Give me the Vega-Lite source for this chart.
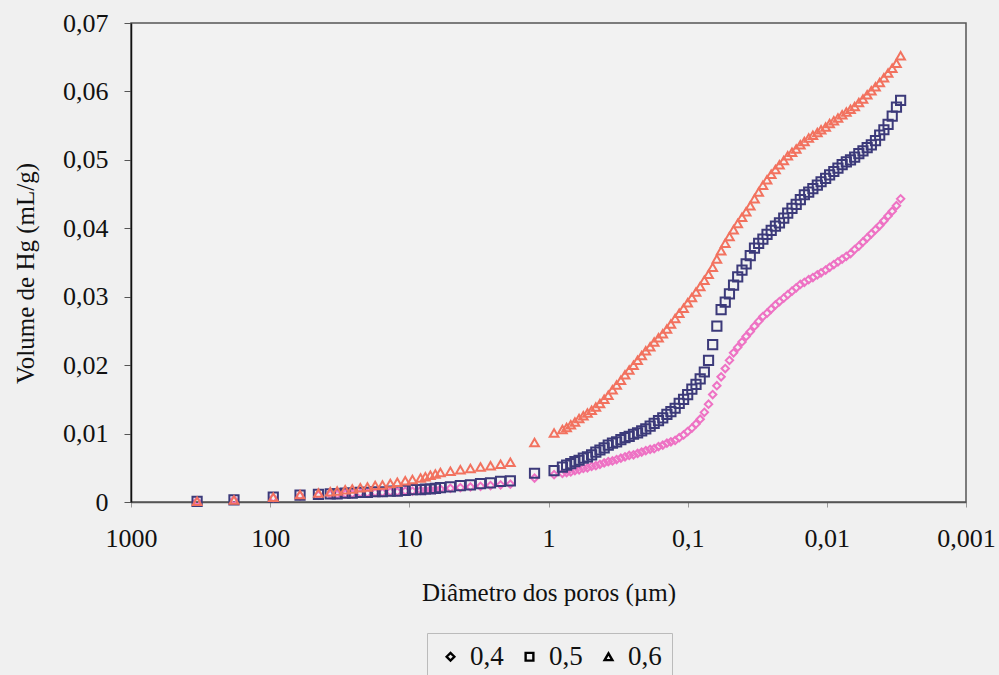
{
  "$schema": "https://vega.github.io/schema/vega-lite/v6.json",
  "width": 835,
  "height": 479,
  "autosize": "none",
  "padding": {"left": 131, "top": 23, "right": 33, "bottom": 173},
  "background": "#f0f0f0",
  "config": {
    "font": "Liberation Serif",
    "view": {"stroke": "#555555", "strokeWidth": 1.5, "fill": "#f2f2f2"}
  },
  "data": {
    "values": [
      {"s":"0,4","d":335,"v":0.0001},{"s":"0,4","d":182,"v":0.0003},{"s":"0,4","d":95,"v":0.0006},{"s":"0,4","d":61,"v":0.0009},{"s":"0,4","d":45,"v":0.0010},{"s":"0,4","d":37,"v":0.0011},{"s":"0,4","d":33,"v":0.0011},{"s":"0,4","d":28.9,"v":0.0012},{"s":"0,4","d":25.7,"v":0.0012},{"s":"0,4","d":22.5,"v":0.0013},{"s":"0,4","d":20,"v":0.0013},{"s":"0,4","d":17.6,"v":0.0014},{"s":"0,4","d":15.6,"v":0.0014},{"s":"0,4","d":13.7,"v":0.0015},{"s":"0,4","d":12.2,"v":0.0015},{"s":"0,4","d":10.7,"v":0.0016},{"s":"0,4","d":9.5,"v":0.0016},{"s":"0,4","d":8.3,"v":0.0017},{"s":"0,4","d":7.67,"v":0.0017},{"s":"0,4","d":7.06,"v":0.0018},{"s":"0,4","d":6.5,"v":0.0018},{"s":"0,4","d":5.98,"v":0.0019},{"s":"0,4","d":5.07,"v":0.0020},{"s":"0,4","d":4.3,"v":0.0021},{"s":"0,4","d":3.64,"v":0.0022},{"s":"0,4","d":3.08,"v":0.0023},{"s":"0,4","d":2.61,"v":0.0024},{"s":"0,4","d":2.21,"v":0.0025},{"s":"0,4","d":1.88,"v":0.0026},
      {"s":"0,4","d":1.26,"v":0.0035},{"s":"0,4","d":0.912,"v":0.0040},
      {"s":"0,4","d":0.794,"v":0.0042},{"s":"0,4","d":0.741,"v":0.0043},{"s":"0,4","d":0.692,"v":0.0044},{"s":"0,4","d":0.646,"v":0.0046},{"s":"0,4","d":0.603,"v":0.0047},{"s":"0,4","d":0.562,"v":0.0049},{"s":"0,4","d":0.525,"v":0.0050},{"s":"0,4","d":0.49,"v":0.0052},{"s":"0,4","d":0.457,"v":0.0053},{"s":"0,4","d":0.427,"v":0.0055},
      {"s":"0,4","d":0.398,"v":0.0057},{"s":"0,4","d":0.372,"v":0.0059},{"s":"0,4","d":0.347,"v":0.0060},{"s":"0,4","d":0.324,"v":0.0062},{"s":"0,4","d":0.302,"v":0.0064},{"s":"0,4","d":0.282,"v":0.0066},{"s":"0,4","d":0.263,"v":0.0068},{"s":"0,4","d":0.245,"v":0.0069},{"s":"0,4","d":0.229,"v":0.0071},{"s":"0,4","d":0.214,"v":0.0073},
      {"s":"0,4","d":0.2,"v":0.0075},{"s":"0,4","d":0.186,"v":0.0077},{"s":"0,4","d":0.174,"v":0.0078},{"s":"0,4","d":0.162,"v":0.0081},{"s":"0,4","d":0.151,"v":0.0083},{"s":"0,4","d":0.141,"v":0.0086},{"s":"0,4","d":0.132,"v":0.0088},{"s":"0,4","d":0.123,"v":0.0090},{"s":"0,4","d":0.115,"v":0.0094},{"s":"0,4","d":0.107,"v":0.0098},
      {"s":"0,4","d":0.1,"v":0.0103},{"s":"0,4","d":0.0933,"v":0.0108},{"s":"0,4","d":0.0871,"v":0.0114},{"s":"0,4","d":0.0813,"v":0.0121},{"s":"0,4","d":0.0759,"v":0.0131},{"s":"0,4","d":0.0708,"v":0.0143},{"s":"0,4","d":0.0661,"v":0.0157},{"s":"0,4","d":0.0617,"v":0.0170},{"s":"0,4","d":0.0575,"v":0.0183},{"s":"0,4","d":0.0537,"v":0.0195},
      {"s":"0,4","d":0.0501,"v":0.0207},{"s":"0,4","d":0.0468,"v":0.0218},{"s":"0,4","d":0.0437,"v":0.0226},{"s":"0,4","d":0.0407,"v":0.0234},{"s":"0,4","d":0.038,"v":0.0242},{"s":"0,4","d":0.0355,"v":0.0249},{"s":"0,4","d":0.0331,"v":0.0257},{"s":"0,4","d":0.0309,"v":0.0264},{"s":"0,4","d":0.0288,"v":0.0271},{"s":"0,4","d":0.0269,"v":0.0276},
      {"s":"0,4","d":0.0251,"v":0.0282},{"s":"0,4","d":0.0234,"v":0.0288},{"s":"0,4","d":0.0219,"v":0.0293},{"s":"0,4","d":0.0204,"v":0.0298},{"s":"0,4","d":0.0191,"v":0.0303},{"s":"0,4","d":0.0178,"v":0.0308},{"s":"0,4","d":0.0166,"v":0.0313},{"s":"0,4","d":0.0155,"v":0.0318},{"s":"0,4","d":0.0145,"v":0.0321},{"s":"0,4","d":0.0135,"v":0.0325},
      {"s":"0,4","d":0.0126,"v":0.0328},{"s":"0,4","d":0.0117,"v":0.0332},{"s":"0,4","d":0.011,"v":0.0335},{"s":"0,4","d":0.0102,"v":0.0339},{"s":"0,4","d":0.00955,"v":0.0343},{"s":"0,4","d":0.00891,"v":0.0347},{"s":"0,4","d":0.00832,"v":0.0351},{"s":"0,4","d":0.00776,"v":0.0355},{"s":"0,4","d":0.00724,"v":0.0359},{"s":"0,4","d":0.00676,"v":0.0363},
      {"s":"0,4","d":0.00631,"v":0.0369},{"s":"0,4","d":0.00589,"v":0.0374},{"s":"0,4","d":0.0055,"v":0.0380},{"s":"0,4","d":0.00513,"v":0.0386},{"s":"0,4","d":0.00479,"v":0.0392},{"s":"0,4","d":0.00447,"v":0.0398},{"s":"0,4","d":0.00417,"v":0.0404},{"s":"0,4","d":0.00389,"v":0.0411},{"s":"0,4","d":0.00363,"v":0.0418},{"s":"0,4","d":0.00339,"v":0.0425},
      {"s":"0,4","d":0.00316,"v":0.0433},{"s":"0,4","d":0.00295,"v":0.0443},

      {"s":"0,5","d":335,"v":0.0001},{"s":"0,5","d":182,"v":0.0003},{"s":"0,5","d":95,"v":0.0007},{"s":"0,5","d":61,"v":0.0010},{"s":"0,5","d":45,"v":0.0011},{"s":"0,5","d":37,"v":0.0012},{"s":"0,5","d":33,"v":0.0012},{"s":"0,5","d":28.9,"v":0.0013},{"s":"0,5","d":25.7,"v":0.0013},{"s":"0,5","d":22.5,"v":0.0014},{"s":"0,5","d":20,"v":0.0014},{"s":"0,5","d":17.6,"v":0.0015},{"s":"0,5","d":15.6,"v":0.0015},{"s":"0,5","d":13.7,"v":0.0016},{"s":"0,5","d":12.2,"v":0.0016},{"s":"0,5","d":10.7,"v":0.0017},{"s":"0,5","d":9.5,"v":0.0018},{"s":"0,5","d":8.3,"v":0.0018},{"s":"0,5","d":7.67,"v":0.0019},{"s":"0,5","d":7.06,"v":0.0019},{"s":"0,5","d":6.5,"v":0.0020},{"s":"0,5","d":5.98,"v":0.0021},{"s":"0,5","d":5.07,"v":0.0022},{"s":"0,5","d":4.3,"v":0.0024},{"s":"0,5","d":3.64,"v":0.0025},{"s":"0,5","d":3.08,"v":0.0027},{"s":"0,5","d":2.61,"v":0.0028},{"s":"0,5","d":2.21,"v":0.0030},{"s":"0,5","d":1.88,"v":0.0031},
      {"s":"0,5","d":1.26,"v":0.0042},{"s":"0,5","d":0.912,"v":0.0046},
      {"s":"0,5","d":0.794,"v":0.0051},{"s":"0,5","d":0.741,"v":0.0054},{"s":"0,5","d":0.692,"v":0.0056},{"s":"0,5","d":0.646,"v":0.0059},{"s":"0,5","d":0.603,"v":0.0061},{"s":"0,5","d":0.562,"v":0.0064},{"s":"0,5","d":0.525,"v":0.0066},{"s":"0,5","d":0.49,"v":0.0069},{"s":"0,5","d":0.457,"v":0.0073},{"s":"0,5","d":0.427,"v":0.0076},
      {"s":"0,5","d":0.398,"v":0.0079},{"s":"0,5","d":0.372,"v":0.0083},{"s":"0,5","d":0.347,"v":0.0086},{"s":"0,5","d":0.324,"v":0.0088},{"s":"0,5","d":0.302,"v":0.0091},{"s":"0,5","d":0.282,"v":0.0094},{"s":"0,5","d":0.263,"v":0.0096},{"s":"0,5","d":0.245,"v":0.0099},{"s":"0,5","d":0.229,"v":0.0101},{"s":"0,5","d":0.214,"v":0.0104},
      {"s":"0,5","d":0.2,"v":0.0107},{"s":"0,5","d":0.186,"v":0.0111},{"s":"0,5","d":0.174,"v":0.0115},{"s":"0,5","d":0.162,"v":0.0119},{"s":"0,5","d":0.151,"v":0.0123},{"s":"0,5","d":0.141,"v":0.0128},{"s":"0,5","d":0.132,"v":0.0132},{"s":"0,5","d":0.123,"v":0.0137},{"s":"0,5","d":0.115,"v":0.0144},{"s":"0,5","d":0.107,"v":0.0150},
      {"s":"0,5","d":0.1,"v":0.0157},{"s":"0,5","d":0.0933,"v":0.0165},{"s":"0,5","d":0.0871,"v":0.0172},{"s":"0,5","d":0.0813,"v":0.0180},{"s":"0,5","d":0.0759,"v":0.0190},{"s":"0,5","d":0.0708,"v":0.0207},{"s":"0,5","d":0.0661,"v":0.0230},{"s":"0,5","d":0.0617,"v":0.0257},{"s":"0,5","d":0.0575,"v":0.0281},{"s":"0,5","d":0.0537,"v":0.0292},
      {"s":"0,5","d":0.0501,"v":0.0304},{"s":"0,5","d":0.0468,"v":0.0317},{"s":"0,5","d":0.0437,"v":0.0329},{"s":"0,5","d":0.0407,"v":0.0339},{"s":"0,5","d":0.038,"v":0.0348},{"s":"0,5","d":0.0355,"v":0.0360},{"s":"0,5","d":0.0331,"v":0.0371},{"s":"0,5","d":0.0309,"v":0.0378},{"s":"0,5","d":0.0288,"v":0.0384},{"s":"0,5","d":0.0269,"v":0.0391},
      {"s":"0,5","d":0.0251,"v":0.0397},{"s":"0,5","d":0.0234,"v":0.0403},{"s":"0,5","d":0.0219,"v":0.0408},{"s":"0,5","d":0.0204,"v":0.0415},{"s":"0,5","d":0.0191,"v":0.0422},{"s":"0,5","d":0.0178,"v":0.0429},{"s":"0,5","d":0.0166,"v":0.0435},{"s":"0,5","d":0.0155,"v":0.0442},{"s":"0,5","d":0.0145,"v":0.0449},{"s":"0,5","d":0.0135,"v":0.0453},
      {"s":"0,5","d":0.0126,"v":0.0458},{"s":"0,5","d":0.0117,"v":0.0463},{"s":"0,5","d":0.011,"v":0.0468},{"s":"0,5","d":0.0102,"v":0.0473},{"s":"0,5","d":0.00955,"v":0.0478},{"s":"0,5","d":0.00891,"v":0.0483},{"s":"0,5","d":0.00832,"v":0.0488},{"s":"0,5","d":0.00776,"v":0.0493},{"s":"0,5","d":0.00724,"v":0.0497},{"s":"0,5","d":0.00676,"v":0.0500},
      {"s":"0,5","d":0.00631,"v":0.0504},{"s":"0,5","d":0.00589,"v":0.0509},{"s":"0,5","d":0.0055,"v":0.0513},{"s":"0,5","d":0.00513,"v":0.0518},{"s":"0,5","d":0.00479,"v":0.0522},{"s":"0,5","d":0.00447,"v":0.0528},{"s":"0,5","d":0.00417,"v":0.0536},{"s":"0,5","d":0.00389,"v":0.0544},{"s":"0,5","d":0.00363,"v":0.0552},{"s":"0,5","d":0.00339,"v":0.0564},
      {"s":"0,5","d":0.00316,"v":0.0577},{"s":"0,5","d":0.00295,"v":0.0587},

      {"s":"0,6","d":335,"v":0.0001},{"s":"0,6","d":182,"v":0.0003},{"s":"0,6","d":95,"v":0.0007},{"s":"0,6","d":61,"v":0.0011},{"s":"0,6","d":45,"v":0.0013},{"s":"0,6","d":37,"v":0.0015},{"s":"0,6","d":33,"v":0.0016},{"s":"0,6","d":28.9,"v":0.0018},{"s":"0,6","d":25.7,"v":0.0019},{"s":"0,6","d":22.5,"v":0.0021},{"s":"0,6","d":20,"v":0.0022},{"s":"0,6","d":17.6,"v":0.0024},{"s":"0,6","d":15.6,"v":0.0025},{"s":"0,6","d":13.7,"v":0.0027},{"s":"0,6","d":12.2,"v":0.0029},{"s":"0,6","d":10.7,"v":0.0031},{"s":"0,6","d":9.5,"v":0.0033},{"s":"0,6","d":8.3,"v":0.0035},{"s":"0,6","d":7.67,"v":0.0037},{"s":"0,6","d":7.06,"v":0.0039},{"s":"0,6","d":6.5,"v":0.0041},{"s":"0,6","d":5.98,"v":0.0043},{"s":"0,6","d":5.07,"v":0.0045},{"s":"0,6","d":4.3,"v":0.0047},{"s":"0,6","d":3.64,"v":0.0049},{"s":"0,6","d":3.08,"v":0.0051},{"s":"0,6","d":2.61,"v":0.0053},{"s":"0,6","d":2.21,"v":0.0055},{"s":"0,6","d":1.88,"v":0.0058},
      {"s":"0,6","d":1.26,"v":0.0087},{"s":"0,6","d":0.912,"v":0.0101},
      {"s":"0,6","d":0.794,"v":0.0106},{"s":"0,6","d":0.741,"v":0.0109},{"s":"0,6","d":0.692,"v":0.0113},{"s":"0,6","d":0.646,"v":0.0117},{"s":"0,6","d":0.603,"v":0.0122},{"s":"0,6","d":0.562,"v":0.0126},{"s":"0,6","d":0.525,"v":0.0130},{"s":"0,6","d":0.49,"v":0.0134},{"s":"0,6","d":0.457,"v":0.0139},{"s":"0,6","d":0.427,"v":0.0144},
      {"s":"0,6","d":0.398,"v":0.0150},{"s":"0,6","d":0.372,"v":0.0156},{"s":"0,6","d":0.347,"v":0.0164},{"s":"0,6","d":0.324,"v":0.0171},{"s":"0,6","d":0.302,"v":0.0178},{"s":"0,6","d":0.282,"v":0.0186},{"s":"0,6","d":0.263,"v":0.0193},{"s":"0,6","d":0.245,"v":0.0200},{"s":"0,6","d":0.229,"v":0.0207},{"s":"0,6","d":0.214,"v":0.0214},
      {"s":"0,6","d":0.2,"v":0.0221},{"s":"0,6","d":0.186,"v":0.0227},{"s":"0,6","d":0.174,"v":0.0234},{"s":"0,6","d":0.162,"v":0.0240},{"s":"0,6","d":0.151,"v":0.0246},{"s":"0,6","d":0.141,"v":0.0253},{"s":"0,6","d":0.132,"v":0.0260},{"s":"0,6","d":0.123,"v":0.0268},{"s":"0,6","d":0.115,"v":0.0276},{"s":"0,6","d":0.107,"v":0.0283},
      {"s":"0,6","d":0.1,"v":0.0291},{"s":"0,6","d":0.0933,"v":0.0299},{"s":"0,6","d":0.0871,"v":0.0307},{"s":"0,6","d":0.0813,"v":0.0315},{"s":"0,6","d":0.0759,"v":0.0324},{"s":"0,6","d":0.0708,"v":0.0333},{"s":"0,6","d":0.0661,"v":0.0343},{"s":"0,6","d":0.0617,"v":0.0355},{"s":"0,6","d":0.0575,"v":0.0367},{"s":"0,6","d":0.0537,"v":0.0378},
      {"s":"0,6","d":0.0501,"v":0.0388},{"s":"0,6","d":0.0468,"v":0.0398},{"s":"0,6","d":0.0437,"v":0.0407},{"s":"0,6","d":0.0407,"v":0.0416},{"s":"0,6","d":0.038,"v":0.0424},{"s":"0,6","d":0.0355,"v":0.0433},{"s":"0,6","d":0.0331,"v":0.0443},{"s":"0,6","d":0.0309,"v":0.0453},{"s":"0,6","d":0.0288,"v":0.0463},{"s":"0,6","d":0.0269,"v":0.0471},
      {"s":"0,6","d":0.0251,"v":0.0479},{"s":"0,6","d":0.0234,"v":0.0486},{"s":"0,6","d":0.0219,"v":0.0493},{"s":"0,6","d":0.0204,"v":0.0499},{"s":"0,6","d":0.0191,"v":0.0506},{"s":"0,6","d":0.0178,"v":0.0511},{"s":"0,6","d":0.0166,"v":0.0516},{"s":"0,6","d":0.0155,"v":0.0522},{"s":"0,6","d":0.0145,"v":0.0527},{"s":"0,6","d":0.0135,"v":0.0532},
      {"s":"0,6","d":0.0126,"v":0.0536},{"s":"0,6","d":0.0117,"v":0.0540},{"s":"0,6","d":0.011,"v":0.0544},{"s":"0,6","d":0.0102,"v":0.0548},{"s":"0,6","d":0.00955,"v":0.0553},{"s":"0,6","d":0.00891,"v":0.0557},{"s":"0,6","d":0.00832,"v":0.0561},{"s":"0,6","d":0.00776,"v":0.0566},{"s":"0,6","d":0.00724,"v":0.0570},{"s":"0,6","d":0.00676,"v":0.0574},
      {"s":"0,6","d":0.00631,"v":0.0578},{"s":"0,6","d":0.00589,"v":0.0584},{"s":"0,6","d":0.0055,"v":0.0589},{"s":"0,6","d":0.00513,"v":0.0595},{"s":"0,6","d":0.00479,"v":0.0601},{"s":"0,6","d":0.00447,"v":0.0607},{"s":"0,6","d":0.00417,"v":0.0613},{"s":"0,6","d":0.00389,"v":0.0620},{"s":"0,6","d":0.00363,"v":0.0627},{"s":"0,6","d":0.00339,"v":0.0634},
      {"s":"0,6","d":0.00316,"v":0.0641},{"s":"0,6","d":0.00295,"v":0.0652}
    ]
  },
  "encoding": {
    "x": {
      "field": "d",
      "type": "quantitative",
      "scale": {"type": "log", "domain": [0.001, 1000], "reverse": true, "nice": false},
      "axis": {
        "values": [1000, 100, 10, 1, 0.1, 0.01, 0.001],
        "labelExpr": "replace(toString(datum.value), '.', ',')",
        "title": "Diâmetro dos poros (µm)",
        "grid": false,
        "labelFont": "Liberation Serif",
        "labelFontSize": 26,
        "labelColor": "#111111",
        "labelPadding": 18,
        "labelFlush": false,
        "titleFont": "Liberation Serif",
        "titleFontSize": 25,
        "titleFontWeight": "normal",
        "titleColor": "#111111",
        "titleY": 90,
        "titleBaseline": "middle",
        "domainColor": "#555555",
        "domainWidth": 1.5,
        "tickColor": "#999999",
        "tickSize": 5
      }
    },
    "y": {
      "field": "v",
      "type": "quantitative",
      "scale": {"domain": [0, 0.07], "nice": false},
      "axis": {
        "values": [0, 0.01, 0.02, 0.03, 0.04, 0.05, 0.06, 0.07],
        "labelExpr": "datum.value == 0 ? '0' : replace(format(datum.value, '.2f'), '.', ',')",
        "title": "Volume de Hg (mL/g)",
        "grid": false,
        "labelFont": "Liberation Serif",
        "labelFontSize": 26,
        "labelColor": "#111111",
        "labelPadding": 16,
        "titleFont": "Liberation Serif",
        "titleFontSize": 25,
        "titleFontWeight": "normal",
        "titleColor": "#111111",
        "titleX": -106,
        "titleY": 250,
        "titleAlign": "center",
        "titleBaseline": "middle",
        "domainColor": "#111111",
        "domainWidth": 1.5,
        "tickColor": "#555555",
        "tickSize": 7
      }
    },
    "shape": {
      "field": "s",
      "type": "nominal",
      "scale": {"domain": ["0,4", "0,5", "0,6"], "range": ["diamond", "square", "triangle-up"]},
      "legend": {
        "title": null,
        "orient": "none",
        "direction": "horizontal",
        "legendX": 296,
        "legendY": 610,
        "symbolStrokeColor": "#000000",
        "symbolFillColor": "transparent",
        "symbolStrokeWidth": 2.4,
        "symbolSize": 60,
        "labelFont": "Liberation Serif",
        "labelFontSize": 27,
        "labelColor": "#111111",
        "labelOffset": 6,
        "columnPadding": 12,
        "padding": 10,
        "strokeColor": "#bbbbbb",
        "fillColor": "#f0f0f0"
      }
    }
  },
  "layer": [
    {
      "transform": [{"filter": "datum.s == '0,4'"}],
      "mark": {"type": "point", "filled": false, "color": "#ee72c4", "size": 55, "strokeWidth": 2, "opacity": 1}
    },
    {
      "transform": [{"filter": "datum.s == '0,5'"}],
      "mark": {"type": "point", "filled": false, "color": "#3c3a7a", "size": 85, "strokeWidth": 2, "opacity": 1}
    },
    {
      "transform": [{"filter": "datum.s == '0,6'"}],
      "mark": {"type": "point", "filled": false, "color": "#f2725f", "size": 75, "strokeWidth": 2, "opacity": 1}
    }
  ]
}
